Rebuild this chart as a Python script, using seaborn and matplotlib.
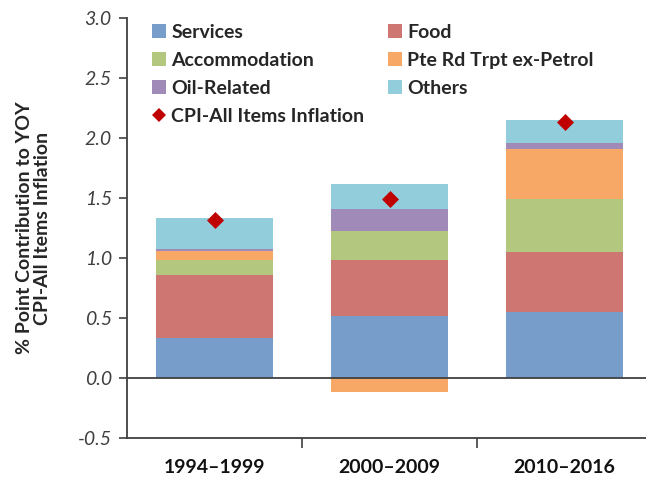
import numpy as np
import pandas as pd
import matplotlib
matplotlib.use("Agg")
import matplotlib.pyplot as plt
import seaborn as sns
from matplotlib.patches import Patch
from matplotlib.lines import Line2D

# data
periods = ["1994\u20131999", "2000\u20132009", "2010\u20132016"]
services = [0.33, 0.52, 0.55]
food = [0.53, 0.46, 0.50]
accommodation = [0.12, 0.245, 0.445]
pte_rd = [0.08, -0.12, 0.417]
oil_related = [0.015, 0.185, 0.05]
others = [0.26, 0.21, 0.186]
cpi_all = [1.32, 1.49, 2.13]

series_names = ["Services", "Food", "Accommodation", "Pte Rd Trpt ex-Petrol",
                "Oil-Related", "Others"]
series_values = [services, food, accommodation, pte_rd, oil_related, others]
colors = ["#779ECB", "#CD7672", "#B3C87E", "#F8A866", "#A08BB8", "#92CDDC"]


def main():
    sns.set_theme(style="white")
    plt.rcParams["font.family"] = ["Lato", "DejaVu Sans"]

    fig = plt.figure(figsize=(6.46, 4.79), dpi=100)
    ax = fig.add_axes([127 / 646, 1 - 438 / 479, 1 - 127 / 646, (438 - 18) / 479])

    # stacked bars: positives stack up from 0, negatives stack down
    pos_base = np.zeros(len(periods))
    neg_base = np.zeros(len(periods))
    for name, vals, col in zip(series_names, series_values, colors):
        vals = np.array(vals, dtype=float)
        bottom = np.where(vals >= 0, pos_base, neg_base)
        df = pd.DataFrame({"period": periods, "value": vals})
        sns.barplot(data=df, x="period", y="value", color=col, bottom=bottom,
                    width=0.67, saturation=1, linewidth=0, ax=ax, errorbar=None)
        pos_base = pos_base + np.clip(vals, 0, None)
        neg_base = neg_base + np.clip(vals, None, 0)

    cpi_df = pd.DataFrame({"period": periods, "cpi": cpi_all})
    sns.scatterplot(data=cpi_df, x="period", y="cpi", marker="D", color="#C00000",
                    s=75, linewidth=0, ax=ax, zorder=5)

    ax.axhline(0, color="#404040", lw=1.3, zorder=4)
    ax.set_xlim(-0.5, (646 - 214.5) / 175)
    ax.set_ylim(-0.5, 3.0)
    ticks = np.arange(-0.5, 3.01, 0.5)
    ax.set_yticks(ticks)
    ax.set_yticklabels([f"{v:.1f}" for v in ticks],
                       fontstyle="italic", color="#404040", fontsize=14)
    ax.set_xticks(range(len(periods)))
    ax.set_xticklabels(periods, fontweight="bold", fontsize=14, color="#111111")
    ax.set_xticks([0.5, 1.5], minor=True)
    ax.tick_params(axis="x", which="major", length=0, pad=15)
    ax.tick_params(axis="x", which="minor", length=7, width=1.2, color="#404040",
                   direction="out", bottom=True)
    ax.tick_params(axis="y", length=6, width=1.2, color="#404040",
                   direction="out", left=True, pad=5)
    ax.set_xlabel("")
    ax.set_ylabel("% Point Contribution to YOY\nCPI-All Items Inflation",
                  fontweight="bold", fontsize=14, linespacing=1.1)
    ax.yaxis.set_label_coords(-(127 - 51) / 519, 0.5)

    sns.despine(ax=ax)
    for side in ["left", "bottom"]:
        ax.spines[side].set_color("#404040")
        ax.spines[side].set_linewidth(1.3)

    # legend: column-wise fill, two columns
    patch = {n: Patch(facecolor=c, edgecolor="none") for n, c in zip(series_names, colors)}
    diamond = Line2D([], [], marker="D", color="#C00000", linestyle="none",
                     markersize=7, markeredgewidth=0)
    handles = [patch["Services"], patch["Accommodation"], patch["Oil-Related"], diamond,
               patch["Food"], patch["Pte Rd Trpt ex-Petrol"], patch["Others"]]
    labels = ["Services", "Accommodation", "Oil-Related", "CPI-All Items Inflation",
              "Food", "Pte Rd Trpt ex-Petrol", "Others"]
    fig.legend(handles, labels, ncol=2, frameon=False, loc="upper left",
               bbox_to_anchor=(152 / 646, 1 - 24 / 479),
               prop={"weight": "bold", "size": 14},
               handlelength=0.7, handleheight=0.7, handletextpad=0.3,
               labelspacing=0.56, columnspacing=1.2, borderaxespad=0, borderpad=0)

    fig.savefig("out.png", dpi=100)


if __name__ == "__main__":
    main()
